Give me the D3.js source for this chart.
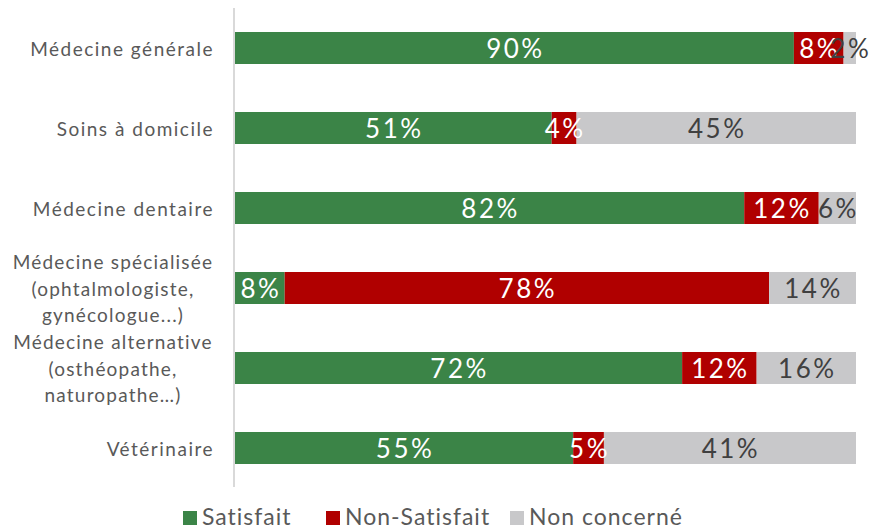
<!DOCTYPE html>
<html><head><meta charset="utf-8">
<script src="https://cdn.jsdelivr.net/npm/d3@7"></script>
<style>body{margin:0;background:#fff}svg{display:block}text{font-family:"Lato","Noto Sans",sans-serif}</style>
</head><body><svg id="c" width="874" height="529"></svg>
<script>
const categories = [
  ["Médecine générale"],
  ["Soins à domicile"],
  ["Médecine dentaire"],
  ["Médecine spécialisée","(ophtalmologiste,","gynécologue...)"],
  ["Médecine alternative","(osthéopathe,","naturopathe…)"],
  ["Vétérinaire"]
];
const seriesNames = ["Satisfait","Non-Satisfait","Non concerné"];
const satisfait    = [90, 51, 82, 8, 72, 55];
const nonSatisfait = [8, 4, 12, 78, 12, 5];
const nonConcerne  = [2, 45, 6, 14, 16, 41];
const colors = ["#3b8447","#b00000","#c8c8ca"];
const labelColors = ["#ffffff","#ffffff","#404040"];

(function(){
const svg = d3.select("#c");
const pLeft = 235, pRight = 856, pTop = 8, pBottom = 488;
const x = d3.scaleLinear().domain([0, 1]).range([pLeft, pRight]);
const y = d3.scaleBand().domain(d3.range(categories.length)).range([pTop, pBottom]).paddingInner(0.6).paddingOuter(0.3);

const rows = categories.map((c, i) => {
  const vals = [satisfait[i], nonSatisfait[i], nonConcerne[i]];
  const tot = d3.sum(vals);
  let acc = 0;
  return vals.map((v, k) => { const s = acc / tot; acc += v; return {i, k, v, x0: s, x1: acc / tot}; });
});

const g = svg.append("g");
rows.forEach(r => r.forEach(d => {
  g.append("rect").attr("x", x(d.x0)).attr("y", y(d.i)).attr("width", x(d.x1) - x(d.x0)).attr("height", y.bandwidth()).attr("fill", colors[d.k]);
}));
rows.forEach(r => r.forEach(d => {
  g.append("text").attr("x", (x(d.x0) + x(d.x1)) / 2 + 1).attr("y", y(d.i) + y.bandwidth() / 2).attr("dy", "0.37em")
    .attr("text-anchor", "middle").attr("font-size", 26).attr("letter-spacing", 2.5).attr("fill", labelColors[d.k]).text(d.v + "%");
}));

svg.append("line").attr("x1", 234).attr("x2", 234).attr("y1", pTop).attr("y2", pBottom - 1).attr("stroke", "#d9d9d9").attr("stroke-width", 2);

categories.forEach((lines, i) => {
  const cy = y(i) + y.bandwidth() / 2;
  const lh = 26.5;
  const multi = lines.length > 1;
  const t = svg.append("text").attr("text-anchor", multi ? "middle" : "end").attr("font-size", 19).attr("letter-spacing", multi ? 1.2 : 1.5).attr("fill", "#595959");
  lines.forEach((l, j) => {
    t.append("tspan").attr("x", multi ? 113 : 214).attr("y", cy + 1 + (j - (lines.length - 1) / 2) * lh).attr("dy", "0.35em").text(l);
  });
});

const legX = [183, 326, 510];
seriesNames.forEach((n, k) => {
  svg.append("rect").attr("x", legX[k]).attr("y", 511).attr("width", 14).attr("height", 14).attr("fill", colors[k]);
  svg.append("text").attr("x", legX[k] + 19).attr("y", 525).attr("font-size", 23).attr("letter-spacing", 1).attr("fill", "#595959").text(n);
});
})();
</script></body></html>
